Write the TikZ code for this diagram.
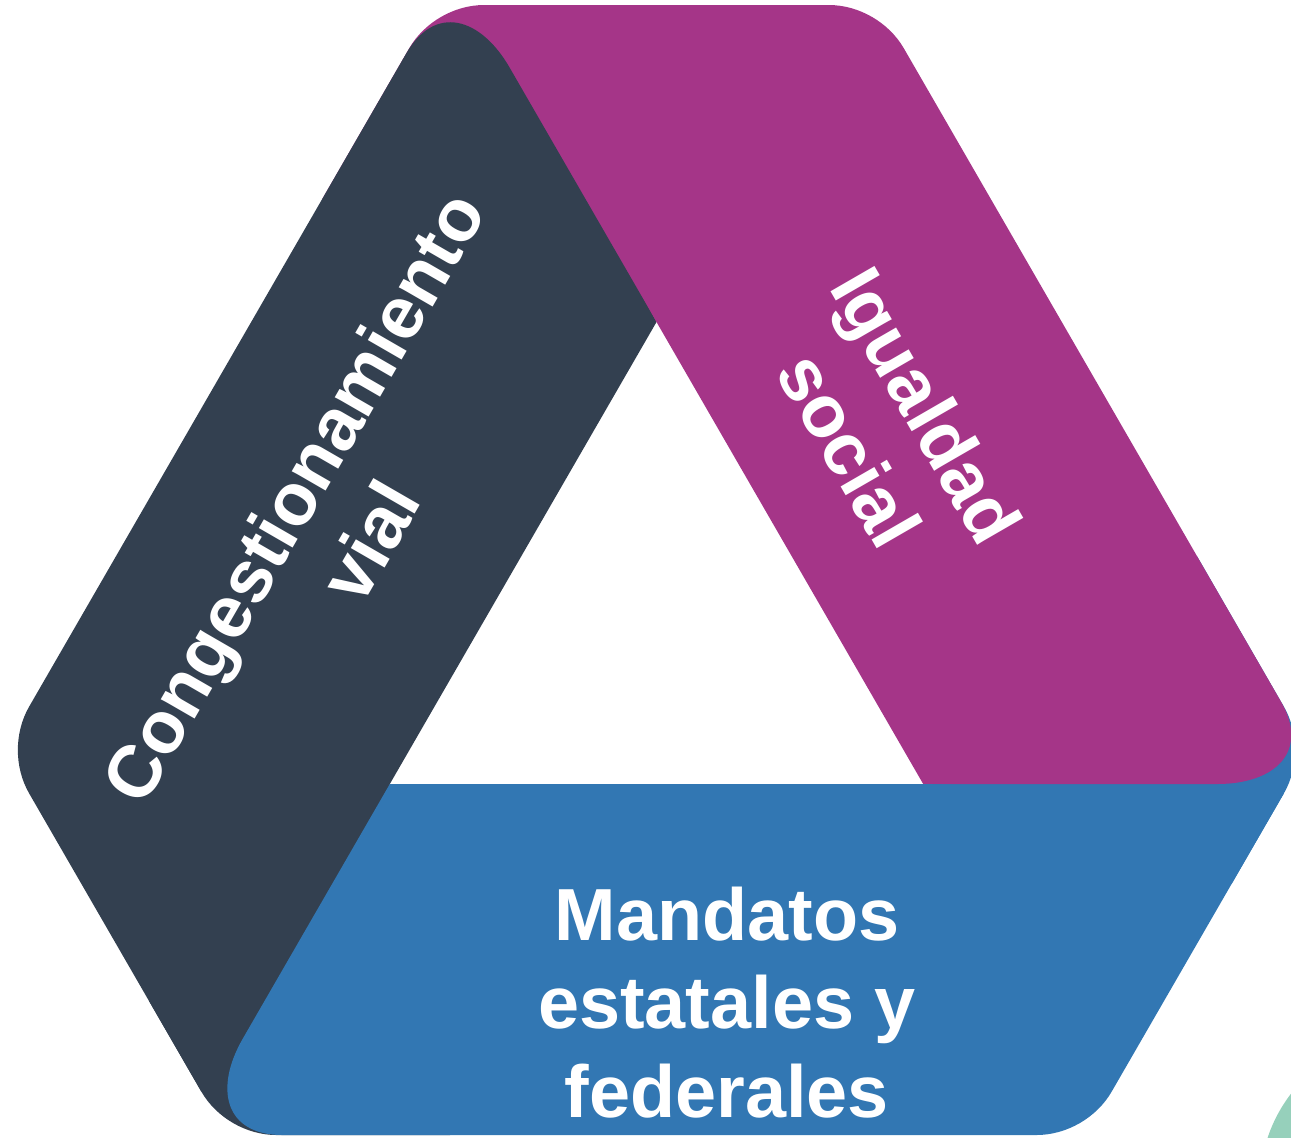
\documentclass[tikz,border=0pt]{standalone}
\usepackage{fontspec}
\setmainfont{Liberation Sans}
\definecolor{congcol}{RGB}{51,64,80}
\definecolor{igualcol}{RGB}{165,53,136}
\definecolor{mandcol}{RGB}{50,119,179}
\definecolor{circcol}{RGB}{150,208,187}

\begin{document}
\begin{tikzpicture}[scale=0.2]
	\tikzstyle{every node}+=[inner sep=0pt]
	\tikzstyle{bandtext}=[text=white, align=center, font=\fontsize{42}{50.5}\selectfont\bfseries]
	\useasboundingbox (0,0) rectangle (129.1,-113.7);
	\clip (0,0) rectangle (129.1,-113.7);
	% pieces under the rounded ends
	\fill [igualcol] (65.65,-32.2) -- (58.88,-0.5) -- (48.42,-0.5) .. controls (45.42,-0.5) and (42.42,-2.23) .. (40.92,-4.83) -- (32.24,-19.87) -- cycle;
	\fill [mandcol] (92.32,-78.4) -- (123.16,-88.39) -- (128.39,-79.33) .. controls (129.89,-76.73) and (129.89,-73.27) .. (128.39,-70.67) -- (119.71,-55.63) -- cycle;
	\fill [congcol] (38.98,-78.4) -- (14.91,-100.11) -- (20.14,-109.17) .. controls (21.64,-111.77) and (24.64,-113.5) .. (27.64,-113.5) -- (45,-113.5) -- cycle;
	% bands
	\fill [congcol] (38.98,-78.4) -- (65.65,-32.2) -- (50.95,-6.74) .. controls (48.06,-1.74) and (43.5,-0.35) .. (40.62,-5.35) -- (2.91,-70.67) .. controls (1.41,-73.27) and (1.41,-76.73) .. (2.91,-79.33) -- (20.14,-109.17) -- cycle;
	\fill [igualcol] (65.65,-32.2) -- (92.32,-78.4) -- (121.72,-78.4) .. controls (127.5,-78.4) and (130.98,-75.14) .. (128.09,-70.15) -- (90.38,-4.83) .. controls (88.88,-2.23) and (85.88,-0.5) .. (82.88,-0.5) -- (48.42,-0.5) -- cycle;
	\fill [mandcol] (92.32,-78.4) -- (38.98,-78.4) -- (24.28,-103.86) .. controls (21.39,-108.86) and (22.47,-113.5) .. (28.24,-113.5) -- (103.66,-113.5) .. controls (106.66,-113.5) and (109.66,-111.77) .. (111.16,-109.17) -- (128.39,-79.33) -- cycle;
	\fill [circcol] (141,-118.5) circle (15);
	% labels
	\node [bandtext, rotate=60] (congtext) at (33.1,-51.9) {Congestionamiento\\vial};
	\node [bandtext, rotate=-60] (igualtext) at (88.84,-42.74) {Igualdad\\social};
	\node [bandtext] (mandtext) at (72.7,-100.25) {Mandatos\\estatales y\\federales};
\end{tikzpicture}
\end{document}
